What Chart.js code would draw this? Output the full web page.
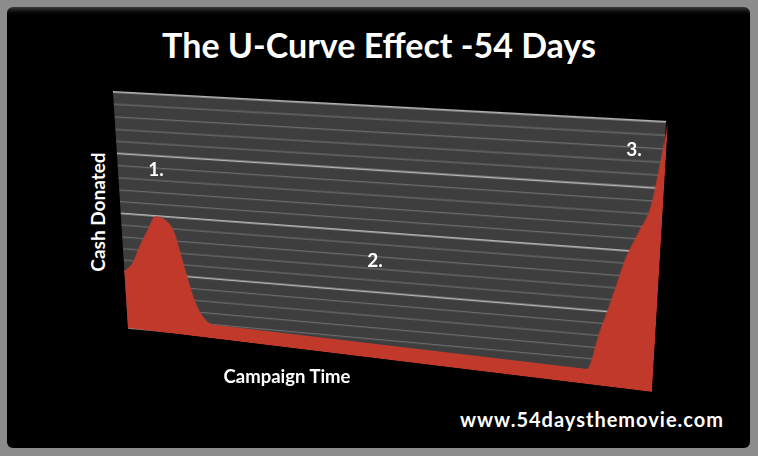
<!DOCTYPE html>
<html>
<head>
<meta charset="utf-8">
<script src="https://cdn.jsdelivr.net/npm/chart.js@4/dist/chart.umd.min.js"></script>
<style>
  html, body { margin: 0; padding: 0; }
  body { width: 758px; height: 456px; background: #8c8c8c; position: relative; overflow: hidden; font-family: Lato, "Open Sans", sans-serif; }
  #frame { position: absolute; left: 7px; top: 7px; width: 743px; height: 441px; border-radius: 6px;
           background: linear-gradient(#3a3a3a 0px, #0a0a0a 5px, #000 8px); }
  canvas.warp { position: absolute; left: 0; top: 0; transform-origin: 0 0; }
  .t { position: absolute; color: #fff; font-weight: 700; white-space: nowrap; line-height: 1; transform: translate(-50%, -50%); }
</style>
</head>
<body>
<div id="frame"></div>
<canvas id="wall" class="warp"></canvas>
<canvas id="front" class="warp"></canvas>
<div class="t" id="title" style="left:379px; top:45px; font-size:34px;">The U-Curve Effect -54 Days</div>
<div class="t" style="left:97px; top:212px; font-size:19px; transform: translate(-50%, -50%) rotate(-90deg);">Cash Donated</div>
<div class="t" style="left:287px; top:376px; font-size:18.5px;">Campaign Time</div>
<div class="t" style="left:156px; top:168px; font-size:19px;">1.</div>
<div class="t" style="left:375px; top:259px; font-size:19px;">2.</div>
<div class="t" style="left:634px; top:148px; font-size:19px;">3.</div>
<div class="t" style="left:592px; top:419px; font-size:20px; letter-spacing:1px;">www.54daysthemovie.com</div>
<script>
// ---- data ----
const days = [0,1,2,3,4,5,6,7,8,9,
              10,11,12,13,14,15,16,17,18,19,
              20,21,22,23,24,25,26,27,28,29,
              30,31,32,33,34,35,36,37,38,39,
              40,41,42,43,44,45,46,47,48,
              49,50,51,52,53,54];
const cashDonated = [25,29,37,44,50,49,44,29,15,8,
                     6,6,6,6,6,6,6,6,6,6,
                     6,6,6,6,6,6,6,6,6,6,
                     6,6,6,6,6,6,6,6,6,6,
                     6,6,6,6,6,6,6,6,6,
                     21,35,50,60,71,100];
const yTicksMax = 100;
const yMinorStep = 5;
const yMajorStep = 25;

// ---- perspective helpers ----
function solve(A, b) {
  const n = b.length;
  for (let i = 0; i < n; i++) {
    let p = i;
    for (let r = i + 1; r < n; r++) if (Math.abs(A[r][i]) > Math.abs(A[p][i])) p = r;
    [A[i], A[p]] = [A[p], A[i]]; [b[i], b[p]] = [b[p], b[i]];
    for (let r = i + 1; r < n; r++) {
      const f = A[r][i] / A[i][i];
      for (let c = i; c < n; c++) A[r][c] -= f * A[i][c];
      b[r] -= f * b[i];
    }
  }
  const x = new Array(n).fill(0);
  for (let i = n - 1; i >= 0; i--) {
    let s = b[i];
    for (let c = i + 1; c < n; c++) s -= A[i][c] * x[c];
    x[i] = s / A[i][i];
  }
  return x;
}
function warp(canvas, area, quad) {
  const src = [[area.left, area.top], [area.right, area.top], [area.right, area.bottom], [area.left, area.bottom]];
  const A = [], b = [];
  for (let i = 0; i < 4; i++) {
    const [x, y] = src[i], [X, Y] = quad[i];
    A.push([x, y, 1, 0, 0, 0, -x * X, -y * X]); b.push(X);
    A.push([0, 0, 0, x, y, 1, -x * Y, -y * Y]); b.push(Y);
  }
  const [a, bb, c, d, e, f, g, h] = solve(A, b);
  canvas.style.transform = `matrix3d(${a},${d},0,${g},${bb},${e},0,${h},0,0,1,0,${c},${f},0,1)`;
}

const wallQuad  = [[113, 92], [666, 122], [648, 376], [128, 328]];
const frontQuad = [[113, 92], [668, 123], [652, 392], [128, 328]];

const wallBg = {
  id: 'wallBg',
  beforeDraw(chart) {
    const { ctx, chartArea: a } = chart;
    ctx.save();
    ctx.fillStyle = '#3e3e3e';
    ctx.fillRect(a.left, a.top, a.right - a.left, a.bottom - a.top);
    ctx.restore();
  }
};

const W = 540, H = 250;
const wallCanvas = document.getElementById('wall');
wallCanvas.width = W; wallCanvas.height = H;
const wallChart = new Chart(wallCanvas, {
  type: 'line',
  data: { labels: days, datasets: [] },
  options: {
    responsive: false, animation: false, devicePixelRatio: 2,
    layout: { padding: 2 },
    plugins: { legend: { display: false }, tooltip: { enabled: false }, title: { display: false } },
    scales: {
      x: { display: false },
      y: {
        min: 0, max: yTicksMax,
        ticks: { display: false, stepSize: yMinorStep },
        border: { display: false },
        grid: {
          drawTicks: false,
          color: c => (c.tick && c.tick.value % yMajorStep === 0) ? '#b4b4b4' : '#6c6c6c',
          lineWidth: c => (c.tick && c.tick.value % yMajorStep === 0) ? 1.6 : 1.2
        }
      }
    }
  },
  plugins: [wallBg]
});
warp(wallCanvas, wallChart.chartArea, wallQuad);

const frontCanvas = document.getElementById('front');
frontCanvas.width = W; frontCanvas.height = H;
const frontChart = new Chart(frontCanvas, {
  type: 'line',
  data: {
    labels: days,
    datasets: [{
      label: 'Cash Donated',
      data: cashDonated,
      fill: 'origin',
      backgroundColor: '#c1392b',
      borderColor: '#c1392b',
      borderWidth: 0,
      pointRadius: 0,
      cubicInterpolationMode: 'monotone'
    }]
  },
  options: {
    responsive: false, animation: false, devicePixelRatio: 2,
    layout: { padding: 0 },
    plugins: { legend: { display: false }, tooltip: { enabled: false }, title: { display: false } },
    scales: {
      x: { display: false, offset: false },
      y: { display: false, min: 0, max: yTicksMax }
    }
  }
});
warp(frontCanvas, frontChart.chartArea, frontQuad);
</script>
</body>
</html>
